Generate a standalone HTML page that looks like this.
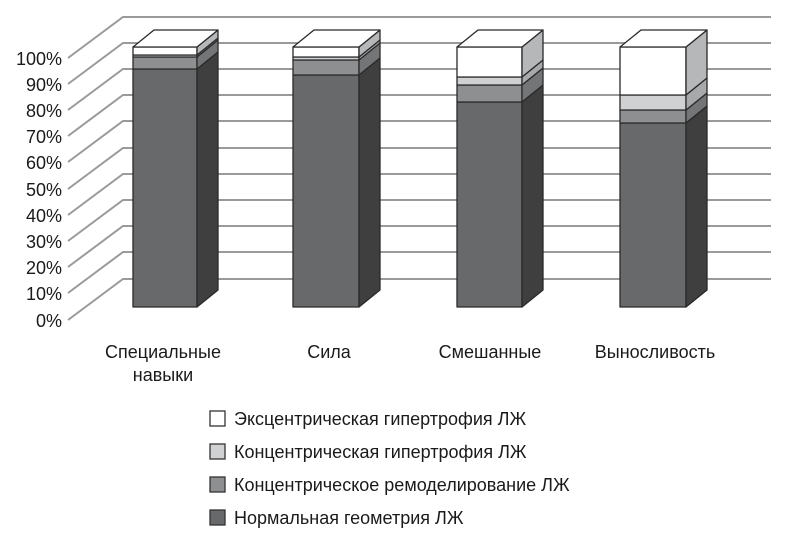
<!DOCTYPE html>
<html><head><meta charset="utf-8"><style>
html,body{margin:0;padding:0;background:#fff;}
svg{display:block;}
text{font-family:"Liberation Sans",Arial,sans-serif;fill:#1a1a1a;}
</style></head><body>
<svg width="790" height="537" viewBox="0 0 790 537" xmlns="http://www.w3.org/2000/svg">
<g stroke="#9a9a9a" stroke-width="2" fill="none">
<path d="M68 58L123 17H771"/><path d="M68 84L123 43H771"/><path d="M68 110L123 69H771"/>
<path d="M68 136L123 95H771"/><path d="M68 162L123 121H771"/><path d="M68 189L123 148H771"/>
<path d="M68 215L123 174H771"/><path d="M68 241L123 200H771"/><path d="M68 267L123 226H771"/>
<path d="M68 293L123 252H771"/><path d="M68 320L123 279H771"/>
</g>
<g font-size="18" text-anchor="end">
<text x="62" y="65">100%</text><text x="62" y="91">90%</text><text x="62" y="117">80%</text>
<text x="62" y="143">70%</text><text x="62" y="169">60%</text><text x="62" y="196">50%</text>
<text x="62" y="222">40%</text><text x="62" y="248">30%</text><text x="62" y="274">20%</text>
<text x="62" y="300">10%</text><text x="62" y="327">0%</text>
</g>
<g stroke="#2a2a2a" stroke-width="1.3" stroke-linejoin="round">
<rect x="133" y="69" width="64" height="238" fill="#68696b"/>
<polygon points="197,307 218,290 218,52 197,69" fill="#3f3f40"/>
<rect x="133" y="57" width="64" height="12" fill="#8e8f91"/>
<polygon points="197,69 218,52 218,40 197,57" fill="#747577"/>
<rect x="133" y="55" width="64" height="2" fill="#d0d1d3"/>
<polygon points="197,57 218,40 218,38 197,55" fill="#a8a9ab"/>
<rect x="133" y="47" width="64" height="8" fill="#fff"/>
<polygon points="197,55 218,38 218,30 197,47" fill="#b6b7b9"/>
<polygon points="133,47 154,30 218,30 197,47" fill="#fff"/>
<rect x="293" y="75" width="66" height="232" fill="#68696b"/>
<polygon points="359,307 380,290 380,58 359,75" fill="#3f3f40"/>
<rect x="293" y="60" width="66" height="15" fill="#8e8f91"/>
<polygon points="359,75 380,58 380,43 359,60" fill="#747577"/>
<rect x="293" y="57" width="66" height="3" fill="#d0d1d3"/>
<polygon points="359,60 380,43 380,40 359,57" fill="#a8a9ab"/>
<rect x="293" y="47" width="66" height="10" fill="#fff"/>
<polygon points="359,57 380,40 380,30 359,47" fill="#b6b7b9"/>
<polygon points="293,47 314,30 380,30 359,47" fill="#fff"/>
<rect x="457" y="102" width="65" height="205" fill="#68696b"/>
<polygon points="522,307 543,290 543,85 522,102" fill="#3f3f40"/>
<rect x="457" y="85" width="65" height="17" fill="#8e8f91"/>
<polygon points="522,102 543,85 543,68 522,85" fill="#747577"/>
<rect x="457" y="77" width="65" height="8" fill="#d0d1d3"/>
<polygon points="522,85 543,68 543,60 522,77" fill="#a8a9ab"/>
<rect x="457" y="47" width="65" height="30" fill="#fff"/>
<polygon points="522,77 543,60 543,30 522,47" fill="#b6b7b9"/>
<polygon points="457,47 478,30 543,30 522,47" fill="#fff"/>
<rect x="620" y="123" width="66" height="184" fill="#68696b"/>
<polygon points="686,307 707,290 707,106 686,123" fill="#3f3f40"/>
<rect x="620" y="110" width="66" height="13" fill="#8e8f91"/>
<polygon points="686,123 707,106 707,93 686,110" fill="#747577"/>
<rect x="620" y="95" width="66" height="15" fill="#d0d1d3"/>
<polygon points="686,110 707,93 707,78 686,95" fill="#a8a9ab"/>
<rect x="620" y="47" width="66" height="48" fill="#fff"/>
<polygon points="686,95 707,78 707,30 686,47" fill="#b6b7b9"/>
<polygon points="620,47 641,30 707,30 686,47" fill="#fff"/>
</g>
<g font-size="18" text-anchor="middle">
<text x="163" y="358">Специальные</text><text x="163" y="381">навыки</text>
<text x="329" y="358">Сила</text>
<text x="490" y="358">Смешанные</text>
<text x="655" y="358">Выносливость</text>
</g>
<g stroke="#333" stroke-width="1.3">
<rect x="210" y="411" width="15" height="15" fill="#fff"/>
<rect x="210" y="444" width="15" height="15" fill="#d0d1d3"/>
<rect x="210" y="477" width="15" height="15" fill="#8e8f91"/>
<rect x="210" y="510" width="15" height="15" fill="#68696b"/>
</g>
<g font-size="18">
<text x="234" y="425">Эксцентрическая гипертрофия ЛЖ</text>
<text x="234" y="458">Концентрическая гипертрофия ЛЖ</text>
<text x="234" y="491">Концентрическое ремоделирование ЛЖ</text>
<text x="234" y="524">Нормальная геометрия ЛЖ</text>
</g>
</svg>
</body></html>
